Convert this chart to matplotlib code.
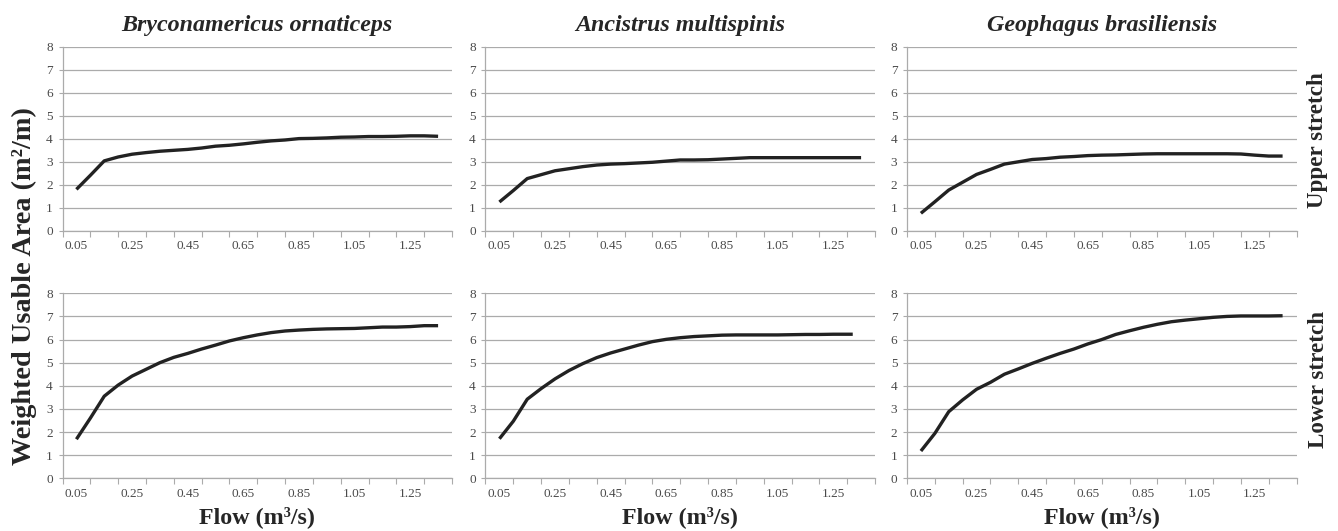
import matplotlib
matplotlib.use("Agg")
import matplotlib.pyplot as plt
from matplotlib.ticker import FixedLocator, NullFormatter, FixedFormatter

plt.rcParams['font.family'] = ['Liberation Serif', 'DejaVu Serif']

species = ["Bryconamericus ornaticeps", "Ancistrus multispinis", "Geophagus brasiliensis"]
stretches = ["Upper stretch", "Lower stretch"]

flow = [0.05, 0.10, 0.15, 0.20, 0.25, 0.30, 0.35, 0.40, 0.45, 0.50, 0.55, 0.60, 0.65,
        0.70, 0.75, 0.80, 0.85, 0.90, 0.95, 1.00, 1.05, 1.10, 1.15, 1.20, 1.25, 1.30, 1.35]
flow_anc_lower = flow[:-2] + [1.32]

wua_bryc_upper = [1.79, 2.40, 3.03, 3.20, 3.32, 3.39, 3.45, 3.49, 3.53, 3.59, 3.67, 3.71, 3.77,
                  3.84, 3.90, 3.94, 4.00, 4.01, 4.03, 4.06, 4.07, 4.09, 4.09, 4.10, 4.12, 4.12, 4.10]
wua_anc_upper = [1.24, 1.74, 2.26, 2.43, 2.60, 2.69, 2.78, 2.85, 2.89, 2.91, 2.94, 2.97, 3.02,
                 3.07, 3.07, 3.08, 3.11, 3.14, 3.17, 3.17, 3.17, 3.17, 3.17, 3.17, 3.17, 3.17, 3.17]
wua_geo_upper = [0.75, 1.25, 1.76, 2.10, 2.44, 2.66, 2.89, 2.99, 3.09, 3.13, 3.19, 3.22, 3.26,
                 3.28, 3.29, 3.31, 3.33, 3.34, 3.34, 3.34, 3.34, 3.34, 3.34, 3.33, 3.28, 3.24, 3.24]
wua_bryc_lower = [1.69, 2.60, 3.55, 4.03, 4.42, 4.71, 5.00, 5.23, 5.40, 5.59, 5.76, 5.94, 6.08,
                  6.20, 6.30, 6.37, 6.41, 6.44, 6.46, 6.47, 6.48, 6.51, 6.54, 6.54, 6.56, 6.60, 6.60]
wua_anc_lower = [1.71, 2.47, 3.42, 3.88, 4.30, 4.66, 4.96, 5.22, 5.42, 5.59, 5.76, 5.91, 6.01,
                 6.08, 6.13, 6.16, 6.19, 6.20, 6.20, 6.20, 6.20, 6.21, 6.22, 6.22, 6.23, 6.23]
wua_geo_lower = [1.18, 1.94, 2.88, 3.39, 3.85, 4.15, 4.50, 4.73, 4.97, 5.19, 5.40, 5.59, 5.81,
                 6.00, 6.22, 6.38, 6.53, 6.66, 6.77, 6.84, 6.90, 6.96, 7.00, 7.02, 7.02, 7.02, 7.03]

x_ticks = [0.0, 0.1, 0.2, 0.3, 0.4, 0.5, 0.6, 0.7, 0.8, 0.9, 1.0, 1.1, 1.2, 1.3, 1.4]
x_labels = ["0.05", "0.25", "0.45", "0.65", "0.85", "1.05", "1.25"]
x_label_pos = [0.05, 0.25, 0.45, 0.65, 0.85, 1.05, 1.25]
y_ticks = [0, 1, 2, 3, 4, 5, 6, 7, 8]

series = [
    [(flow, wua_bryc_upper), (flow, wua_anc_upper), (flow, wua_geo_upper)],
    [(flow, wua_bryc_lower), (flow_anc_lower, wua_anc_lower), (flow, wua_geo_lower)],
]

W, H = 1338, 531
fig = plt.figure(figsize=(W / 100, H / 100), dpi=100)

col_left = [62.5, 485.5, 907.0]
col_w = 389.5
row_top = [46.7, 293.3]
row_bot = [230.5, 478.3]

grid_c = "#ababab"
tick_c = "#4a4a4a"
text_c = "#262626"

axes = []
for r in range(2):
    for c in range(3):
        ax = fig.add_axes([col_left[c] / W, 1 - row_bot[r] / H, col_w / W,
                           (row_bot[r] - row_top[r]) / H])
        xs, ys = series[r][c]
        ax.plot(xs, ys, color="#222222", lw=2.4, solid_capstyle="butt", zorder=3)
        ax.set_xlim(0, 1.4)
        ax.set_ylim(0, 8)
        ax.xaxis.set_major_locator(FixedLocator(x_ticks))
        ax.xaxis.set_major_formatter(NullFormatter())
        ax.xaxis.set_minor_locator(FixedLocator(x_label_pos))
        ax.xaxis.set_minor_formatter(FixedFormatter(x_labels))
        ax.tick_params(axis="x", which="major", length=4, width=0.8, color=grid_c)
        ax.tick_params(axis="x", which="minor", length=0, pad=7, labelsize=9.5, labelcolor=tick_c)
        ax.set_yticks(y_ticks)
        ax.tick_params(axis="y", length=3, width=0.8, color=grid_c, pad=4,
                       labelsize=9.5, labelcolor=tick_c)
        ax.grid(axis="y", color=grid_c, lw=0.9)
        ax.set_axisbelow(True)
        for s in ["top", "right"]:
            ax.spines[s].set_visible(False)
        for s in ["left", "bottom"]:
            ax.spines[s].set_color(grid_c)
            ax.spines[s].set_linewidth(0.9)
        if r == 0:
            ax.set_title(species[c], fontsize=17.3, fontweight="bold", fontstyle="italic",
                         color=text_c, pad=11)
        else:
            ax.set_xlabel("Flow (m³/s)", fontsize=17.3, fontweight="bold", color=text_c,
                          labelpad=4)
        axes.append(ax)

fig.text(24 / W, 1 - 286 / H, "Weighted Usable Area (m²/m)", rotation=90, ha="center",
         va="center", fontsize=20.3, fontweight="bold", color=text_c)
fig.text(1318 / W, 1 - 140 / H, stretches[0], rotation=90, ha="center", va="center",
         fontsize=16.6, fontweight="bold", color=text_c)
fig.text(1318 / W, 1 - 379 / H, stretches[1], rotation=90, ha="center", va="center",
         fontsize=16.6, fontweight="bold", color=text_c)

fig.savefig("out.png", dpi=100, facecolor="white")
